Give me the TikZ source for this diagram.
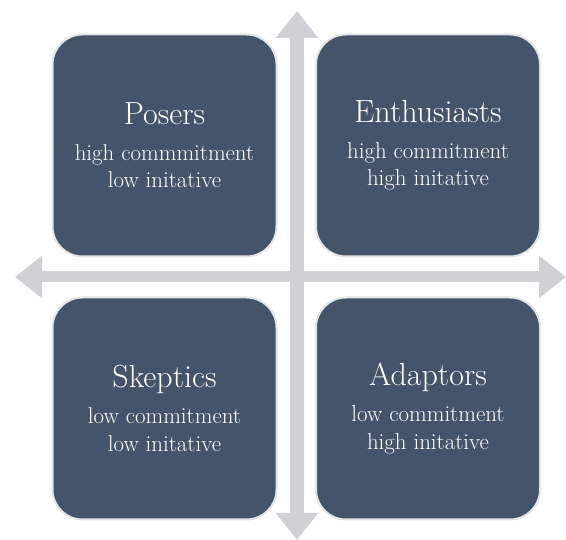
\documentclass[tikz,border=0pt]{standalone}
\usetikzlibrary{arrows.meta}

\definecolor{slate}{HTML}{44546A}
\definecolor{rim}{HTML}{E4E4E4}
\definecolor{axisgray}{HTML}{D0D1D5}

\tikzset{
  quadrant/.style={draw=rim, line width=2pt, fill=slate, text=white,
    rounded corners=30pt, minimum width=224pt, minimum height=222pt,
    align=center, font=\fontsize{22.9}{27.3}\selectfont},
  axisline/.style={draw=axisgray, line width=#1,
    {Triangle[length=27pt,width=41pt]}-{Triangle[length=27pt,width=41pt]}}
}

\begin{document}
\begin{tikzpicture}[x=1pt, y=-1pt]
  \useasboundingbox (0,0) rectangle (566,540);

  % Axes
  \coordinate (west) at (15,277);
  \coordinate (east) at (566,277);
  \coordinate (north) at (297,11);
  \coordinate (south) at (297,540);
  \draw[axisline=11pt] (west) -- (east);
  \draw[axisline=14pt] (north) -- (south);

  % Quadrants
  \foreach \name/\x/\y/\title/\first/\second in {
      posers/164.5/145.5/Posers/high commmitment/low initative,
      enthusiasts/428/145.5/Enthusiasts/high commitment/high initative,
      skeptics/164.5/408.5/Skeptics/low commitment/low initative,
      adaptors/428/408.5/Adaptors/low commitment/high initative} {
    \node[quadrant] (\name) at (\x,\y)
      {{\fontsize{32}{32}\selectfont \title}\\[8.7pt] \first\\ \second};
  }
\end{tikzpicture}
\end{document}
